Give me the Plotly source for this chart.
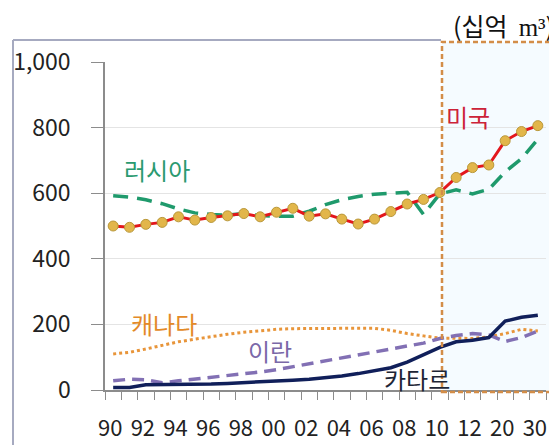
import plotly.graph_objects as go

# ---- data ----
years = ["1990","1991","1992","1993","1994","1995","1996","1997","1998","1999",
         "2000","2001","2002","2003","2004","2005","2006","2007","2008","2009",
         "2010","2011","2012","2015","2020","2025","2030"]
tick_labels = ["90","92","94","96","98","00","02","04","06","08","10","12","20","30"]
tick_years = ["1990","1992","1994","1996","1998","2000","2002","2004","2006","2008","2010","2012","2020","2030"]

usa = [500, 496, 505, 511, 528, 518, 526, 531, 538, 528, 542, 554, 530, 537, 521, 506,
       521, 544, 567, 581, 602, 648, 678, 686, 760, 788, 806]
russia = [592, 588, 580, 568, 552, 540, 535, 533, 538, 532, 530, 530, 545, 565, 580, 590,
          597, 600, 603, 535, 598, 610, 598, 612, 665, 705, 765]
canada = [110, 115, 125, 137, 147, 155, 163, 170, 176, 181, 185, 187, 188, 188, 188, 188,
          188, 182, 172, 165, 158, 158, 157, 162, 172, 185, 180]
iran = [28, 33, 31, 22, 28, 33, 38, 43, 50, 55, 62, 71, 80, 89, 97, 106, 116, 125, 133,
        143, 157, 166, 172, 168, 148, 160, 180]
qatar = [8, 8, 16, 16, 16, 17, 18, 20, 22, 24, 27, 30, 33, 37, 43, 50, 58, 68, 85, 108,
         130, 147, 152, 160, 210, 222, 228]

xi = list(range(len(years)))
tickvals = [years.index(y) for y in tick_years]

OFF = 8                      # page body margin
W, H = 557 - OFF, 445 - OFF  # figure size
L, R, T, B = 105, 546, 62, 390  # plot area in page pixels


def px(p):
    return (p - L) / (R - L)


def py(p):
    return (B - p) / (B - T)


FONT = "Noto Sans CJK KR"

fig = go.Figure()
fig.add_trace(go.Scatter(x=xi, y=canada, mode="lines",
                         line=dict(color="#e8953a", width=3, dash="3px,3px")))
fig.add_trace(go.Scatter(x=xi, y=iran, mode="lines",
                         line=dict(color="#8270b4", width=3.5, dash="12px,7px")))
fig.add_trace(go.Scatter(x=xi, y=qatar, mode="lines",
                         line=dict(color="#101f5a", width=3.5)))
fig.add_trace(go.Scatter(x=xi, y=russia, mode="lines",
                         line=dict(color="#1f9a6c", width=3.5, dash="15px,9px")))
fig.add_trace(go.Scatter(x=xi, y=usa, mode="lines+markers",
                         line=dict(color="#e3161c", width=3),
                         marker=dict(size=10, color="#e2b64a",
                                     line=dict(color="#b9983a", width=1))))

shapes = [
    dict(type="rect", xref="paper", yref="paper", layer="below",
         x0=px(442), x1=px(553), y0=py(392), y1=py(42),
         line=dict(width=0), fillcolor="rgba(232,246,255,0.45)"),
    dict(type="line", xref="paper", yref="paper",
         x0=px(550), x1=px(550), y0=py(390), y1=py(45),
         line=dict(color="#b8dcf0", width=1, dash="4px,3px")),
    dict(type="rect", xref="paper", yref="paper",
         x0=px(442), x1=px(553), y0=py(392), y1=py(42),
         line=dict(color="#d38d48", width=2.5, dash="5px,3px")),
    dict(type="line", xref="paper", yref="paper",
         x0=px(13), x1=px(13), y0=py(450), y1=py(40),
         line=dict(color="#a6aac0", width=2)),
    dict(type="line", xref="paper", yref="paper",
         x0=px(13), x1=px(441), y0=py(40), y1=py(40),
         line=dict(color="#a6aac0", width=2)),
]

annotations = [
    dict(text="러시아", x=px(157), y=py(169), font=dict(color="#2a9a70", size=24)),
    dict(text="미국", x=px(468), y=py(116), font=dict(color="#cc2238", size=24)),
    dict(text="캐나다", x=px(164), y=py(323), font=dict(color="#e38a28", size=24)),
    dict(text="이란", x=px(270), y=py(350), font=dict(color="#7a68a8", size=24)),
    dict(text="카타르", x=px(417), y=py(378), font=dict(color="#1e2636", size=24)),
    dict(text="(십억  <span style='font-family:Liberation Serif'>m³</span>)",
         x=px(556), y=py(25), xanchor="right",
         font=dict(color="#111111", size=25)),
]
for a in annotations:
    a.setdefault("xanchor", "center")
    a.update(xref="paper", yref="paper", yanchor="middle", showarrow=False)
    a["font"]["family"] = FONT

fig.update_layout(
    width=W, height=H,
    margin=dict(l=L - OFF, r=557 - R, t=T - OFF, b=445 - B, pad=0),
    paper_bgcolor="white", plot_bgcolor="white",
    showlegend=False,
    shapes=shapes, annotations=annotations,
    font=dict(family=FONT, color="#222222"),
)
fig.update_xaxes(
    automargin=False,
    range=[-0.5, len(years) - 0.5],
    tickmode="array", tickvals=tickvals, ticktext=tick_labels,
    showgrid=False, zeroline=False,
    showline=True, linecolor="#8c8c8c", linewidth=1.5,
    ticks="outside", ticklen=8, tickcolor="rgba(0,0,0,0)",
    ticklabelstandoff=10, ticklabelshift=-3,
    tickfont=dict(size=22, color="#222222"),
    minor=dict(tickmode="linear", tick0=-0.5, dtick=1, ticks="outside",
               ticklen=8, tickcolor="#8c8c8c", showgrid=False),
)
fig.update_yaxes(
    automargin=False,
    range=[0, 1000], tickvals=[0, 200, 400, 600, 800, 1000], tickformat=",",
    showgrid=True, gridcolor="#e4e4e4", gridwidth=1, zeroline=False,
    showline=True, linecolor="#8c8c8c", linewidth=1.5,
    ticks="outside", ticklen=12, tickcolor="#8c8c8c",
    ticklabelstandoff=16,
    tickfont=dict(size=23, color="#222222"),
)

fig.write_html("out.html")
